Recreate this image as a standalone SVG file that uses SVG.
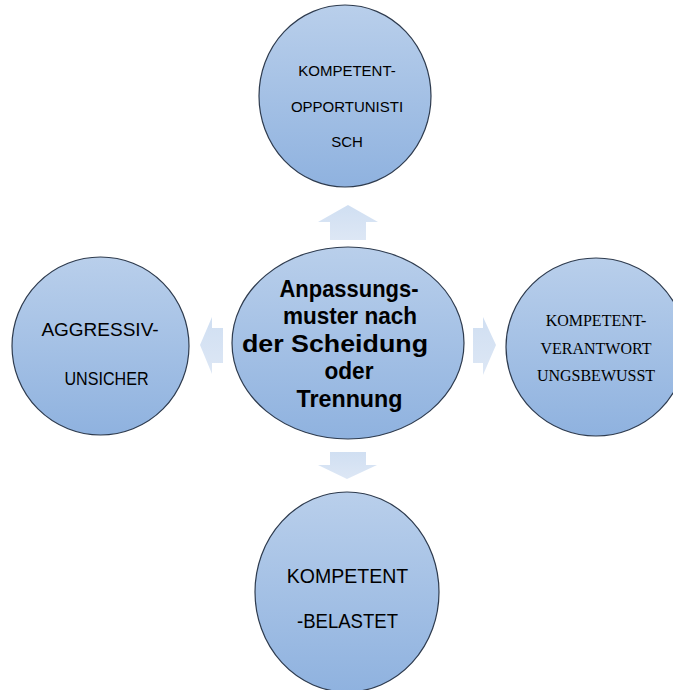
<svg xmlns="http://www.w3.org/2000/svg" width="673" height="690" viewBox="0 0 673 690">
<defs>
<linearGradient id="gNode" x1="0" y1="0" x2="0" y2="1">
<stop offset="0" stop-color="#b9cfeb"/>
<stop offset="1" stop-color="#8fb2df"/>
</linearGradient>
<linearGradient id="gArrow" x1="0" y1="0" x2="0" y2="1">
<stop offset="0" stop-color="#d0dff2"/>
<stop offset="1" stop-color="#dde7f5"/>
</linearGradient>
</defs>
<style>
.node{fill:url(#gNode);stroke:#2e3b4e;stroke-width:1.2}
.arrow{fill:url(#gArrow);stroke:none}
.sans{font-family:"Liberation Sans",Arial,sans-serif;fill:#000;text-anchor:middle}
.serif{font-family:"Liberation Serif","Times New Roman",serif;fill:#000;text-anchor:middle}
.bold{font-weight:bold}
</style>
<rect width="673" height="690" fill="#ffffff"/>
<g id="connectors">
<polygon class="arrow" points="330,240 330,222 318,222 348,205 378,222 366,222 366,240"/>
<polygon class="arrow" points="330,452 366,452 366,465 377,465 347,479 318,465 330,465"/>
<polygon class="arrow" points="223,328 212,328 212,317 200,345 212,374 212,363 223,363"/>
<polygon class="arrow" points="473,328 483,328 483,317 496,345 483,375 483,363 473,363"/>
</g>
<g id="node-center">
<ellipse class="node" cx="348" cy="343" rx="116" ry="96"/>
<text class="sans bold" font-size="24" x="349" y="297" textLength="139" lengthAdjust="spacingAndGlyphs">Anpassungs-</text>
<text class="sans bold" font-size="24" x="350" y="324" textLength="134" lengthAdjust="spacingAndGlyphs">muster nach</text>
<text class="sans bold" font-size="24" x="335" y="352" textLength="186" lengthAdjust="spacingAndGlyphs">der Scheidung</text>
<text class="sans bold" font-size="24" x="349" y="379" textLength="49" lengthAdjust="spacingAndGlyphs">oder</text>
<text class="sans bold" font-size="24" x="349.5" y="407" textLength="106" lengthAdjust="spacingAndGlyphs">Trennung</text>
</g>
<g id="node-top">
<ellipse class="node" cx="345" cy="96" rx="86" ry="91"/>
<text class="sans" font-size="15" x="347" y="76">KOMPETENT-</text>
<text class="sans" font-size="15" x="347" y="112">OPPORTUNISTI</text>
<text class="sans" font-size="15" x="347" y="147">SCH</text>
</g>
<g id="node-right">
<ellipse class="node" cx="596" cy="347" rx="90" ry="89"/>
<text class="serif" font-size="16" x="596" y="326">KOMPETENT-</text>
<text class="serif" font-size="16" x="596" y="354">VERANTWORT</text>
<text class="serif" font-size="16" x="596" y="381">UNGSBEWUSST</text>
</g>
<g id="node-left">
<ellipse class="node" cx="100.5" cy="346" rx="88.5" ry="89"/>
<text class="sans" font-size="19" x="100" y="336">AGGRESSIV-</text>
<text class="sans" font-size="19" x="106.5" y="385" textLength="84" lengthAdjust="spacingAndGlyphs">UNSICHER</text>
</g>
<g id="node-bottom">
<ellipse class="node" cx="347" cy="592" rx="92" ry="100"/>
<text class="sans" font-size="19.5" x="347.5" y="583">KOMPETENT</text>
<text class="sans" font-size="19.5" x="347.5" y="628" textLength="101" lengthAdjust="spacingAndGlyphs">-BELASTET</text>
</g>
</svg>
